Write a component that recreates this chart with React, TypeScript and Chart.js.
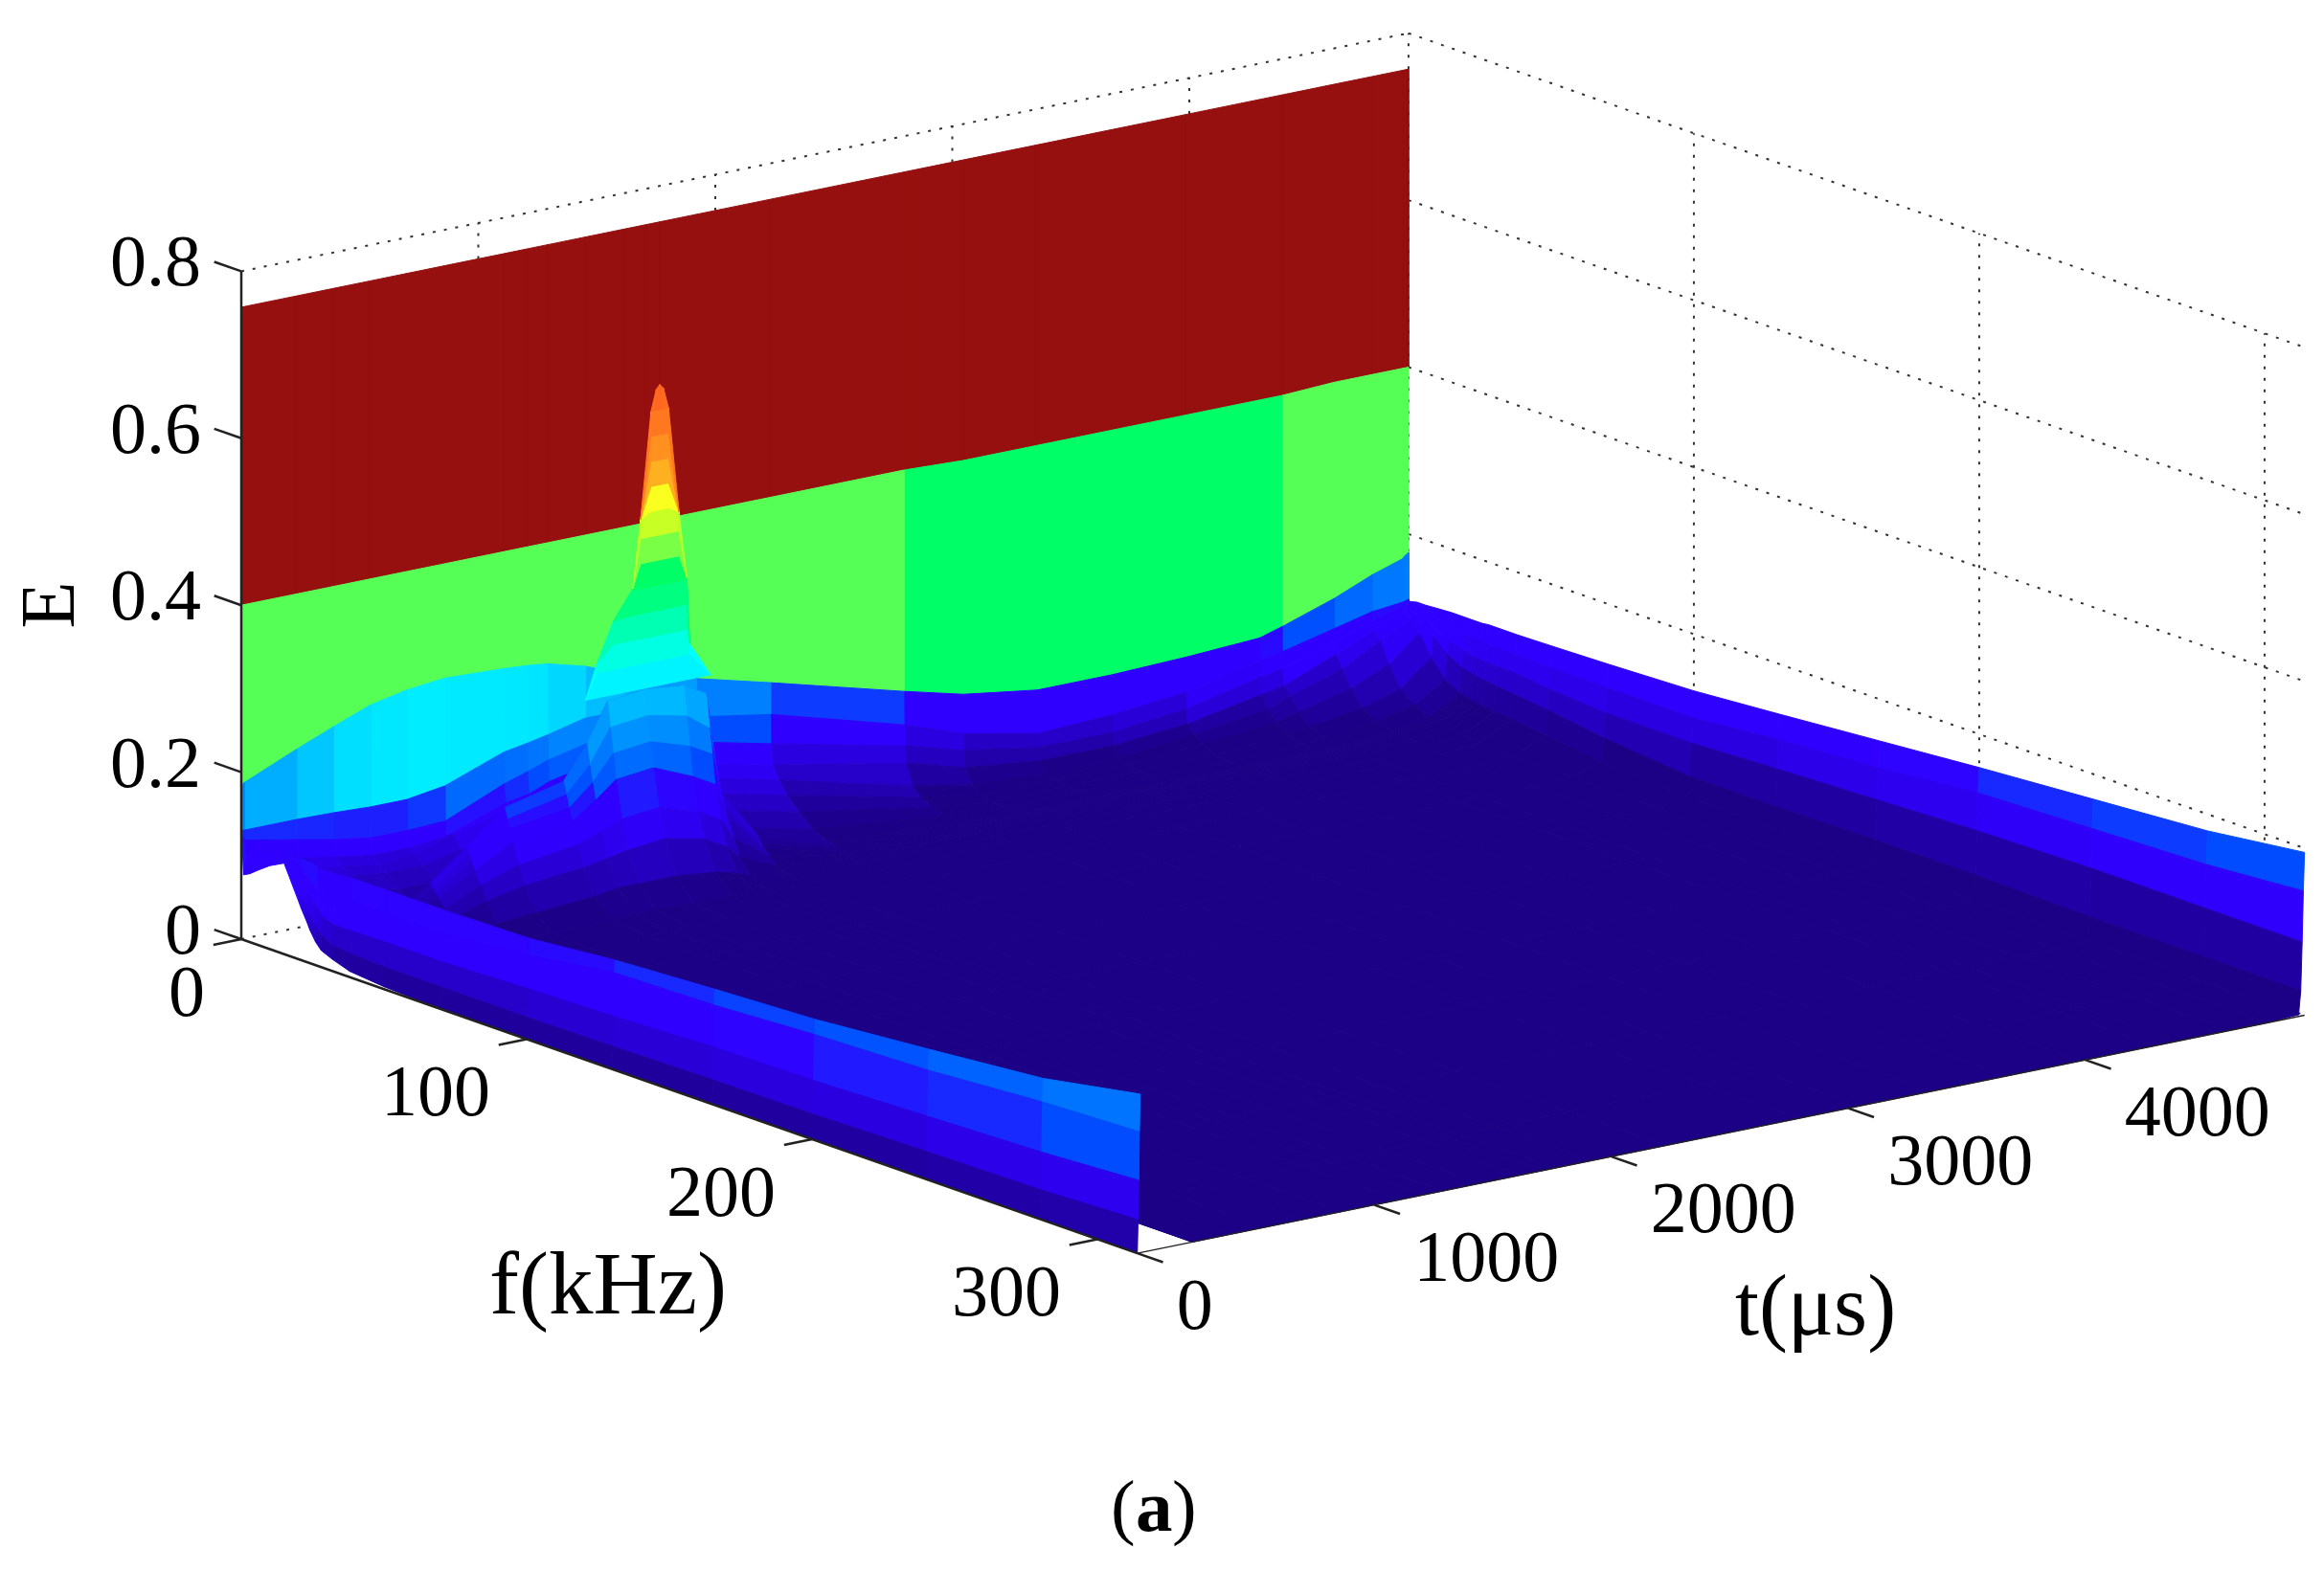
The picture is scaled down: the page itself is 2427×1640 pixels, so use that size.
import React, { useEffect, useRef } from "react";
import { Chart, registerables } from "chart.js";

Chart.register(...registerables);

// ---------- axis data ----------
const eTicks = [0, 0.2, 0.4, 0.6, 0.8];
const eTickLabels = ["0", "0.2", "0.4", "0.6", "0.8"];
const fTicks = [0, 100, 200, 300];
const fTickLabels = ["0", "100", "200", "300"];
const tTicks = [0, 1000, 2000, 3000, 4000];
const tTickLabels = ["0", "1000", "2000", "3000", "4000"];
const fMax = 314;
const tMax = 4925;
const eMax = 0.8;

// ---------- surface grid: E(f, t) ----------
const tColumns = [0, 3, 6, 9, 12, 232, 388, 544, 696, 857, 1106, 1205, 1292, 1450, 1615, 1710, 1764, 1920, 2232, 2795, 3045, 3358, 3670, 3984, 4296, 4390, 4610, 4770, 4900, 4909, 4915, 4920, 4925];
const fRows = [0, 0.02, 0.05, 0.1, 0.2, 0.8, 3, 6, 10, 15, 20, 21, 22, 23, 24, 26, 28, 32, 38, 50, 70, 100, 130, 165, 200, 240, 280, 314];

const E00 = [.757,.757,.757,.757,.757,.757,.757,.757,.757,.757,.757,.757,.757,.757,.757,.757,.757,.757,.757,.757,.757,.757,.757,.757,.757,.757,.757,.757,.757,.757,.757,.757,.757];
const E01 = [.4,.4,.4,.4,.4,.4,.4,.4,.4,.4,.4,.4,.4,.4,.4,.4,.4,.4,.4,.4,.397,.397,.397,.397,.397,.397,.4,.4,.4,.4,.4,.4,.4];
const E02 = [.183,.184,.185,.186,.187,.214,.232,.249,.258,.263,.26,.258,.255,.243,.225,.215,.21,.201,.178,.135,.117,.104,.104,.107,.112,.12,.141,.16,.172,.175,.176,.177,.178];
const E03 = [.13,.13,.13,.13,.13,.13,.129,.127,.127,.134,.16,.165,.17,.181,.18,.172,.165,.155,.14,.095,.07,.052,.056,.065,.085,.09,.105,.116,.12,.121,.121,.122,.122];
const E04 = [.122,.122,.121,.12,.118,.106,.097,.09,.09,.092,.122,.131,.14,.15,.15,.145,.14,.125,.105,.07,.05,.035,.035,.045,.065,.07,.09,.105,.115,.118,.119,.12,.12];
const E05 = [.078,.085,.09,.095,.098,.085,.077,.07,.07,.075,.1,.105,.115,.125,.125,.12,.115,.1,.08,.05,.03,.02,.02,.028,.045,.05,.075,.095,.11,.115,.117,.118,.12];
const E06 = [.082,.09,.1,.105,.11,.075,.068,.06,.065,.08,.095,.1,.105,.11,.11,.105,.1,.085,.065,.025,.012,.006,.008,.018,.03,.04,.06,.085,.105,.112,.116,.12,.122];
const E07 = [.09,.095,.1,.105,.112,.07,.06,.055,.055,.065,.08,.085,.09,.095,.098,.09,.085,.07,.05,.015,.004,.003,.004,.01,.018,.025,.04,.06,.09,.105,.11,.118,.122];
const E08 = [.1,.102,.105,.11,.115,.065,.05,.04,.04,.05,.065,.07,.075,.085,.09,.08,.07,.055,.035,.008,0,0,0,.003,.008,.012,.022,.035,.065,.09,.1,.112,.123];
const E09 = [.109,.11,.112,.115,.118,.055,.04,.028,.025,.035,.05,.055,.065,.085,.09,.075,.06,.04,.02,.004,0,0,0,0,.003,.005,.012,.022,.045,.075,.09,.108,.124];
const E10 = [.07,.08,.095,.11,.12,.035,.022,.012,.01,.018,.035,.045,.06,.1,.1,.08,.055,.03,.012,.002,0,0,0,0,0,0,.006,.014,.035,.065,.085,.105,.124];
const E11 = [.062,.075,.09,.105,.12,.012,.03,.06,.095,.133,.15,.19,.235,.24,.235,.22,.1,.04,.012,.002,0,0,0,0,0,0,.006,.013,.034,.064,.084,.105,.124];
const E12 = [.055,.07,.085,.1,.12,.012,.028,.055,.088,.12,.135,.165,.205,.21,.2,.18,.09,.035,.01,.001,0,0,0,0,0,0,.005,.012,.033,.063,.083,.104,.124];
const E13 = [.048,.062,.08,.1,.12,.011,.025,.05,.08,.11,.12,.145,.175,.18,.165,.15,.08,.03,.008,.001,0,0,0,0,0,0,.005,.012,.032,.062,.082,.104,.124];
const E14 = [.04,.055,.075,.095,.12,.01,.022,.045,.07,.095,.105,.125,.145,.15,.13,.115,.07,.025,.005,0,0,0,0,0,0,0,.004,.011,.031,.061,.082,.103,.124];
const E15 = [.028,.045,.07,.09,.116,.009,.018,.035,.055,.07,.08,.09,.1,.105,.09,.075,.05,.018,.003,0,0,0,0,0,0,0,.004,.01,.03,.06,.081,.103,.124];
const E16 = [.02,.038,.06,.09,.116,.008,.014,.025,.038,.048,.055,.06,.065,.07,.06,.045,.03,.01,.001,0,0,0,0,0,0,0,.003,.009,.029,.059,.081,.102,.125];
const E17 = [.014,.03,.055,.09,.116,.005,.008,.012,.017,.02,.025,.03,.03,.03,.025,.018,.012,.004,0,0,0,0,0,0,0,0,.002,.007,.027,.057,.08,.102,.125];
const E18 = [.007,.028,.055,.09,.118,0,.001,.002,.003,.003,.004,.006,.006,.005,.003,.002,.001,0,0,0,0,0,0,0,0,0,0,.005,.025,.055,.08,.102,.125];
const E19 = [.003,.026,.056,.09,.118,0,0,0,0,0,0,0,0,0,0,0,0,0,0,0,0,0,0,0,0,0,0,.003,.02,.05,.075,.1,.126];
const E20 = [0,.026,.056,.09,.118,0,0,0,0,0,0,0,0,0,0,0,0,0,0,0,0,0,0,0,0,0,0,.002,.012,.04,.07,.1,.128];
const E21 = [0,.026,.06,.1,.12,0,0,0,0,0,0,0,0,0,0,0,0,0,0,0,0,0,0,0,0,0,0,0,.006,.03,.07,.1,.132];
const E22 = [0,.027,.063,.115,.13,0,0,0,0,0,0,0,0,0,0,0,0,0,0,0,0,0,0,0,0,0,0,0,.005,.03,.075,.11,.14];
const E23 = [0,.029,.068,.118,.137,0,0,0,0,0,0,0,0,0,0,0,0,0,0,0,0,0,0,0,0,0,0,0,.004,.032,.08,.118,.15];
const E24 = [0,.03,.07,.125,.143,0,0,0,0,0,0,0,0,0,0,0,0,0,0,0,0,0,0,0,0,0,0,0,.003,.032,.085,.13,.16];
const E25 = [0,.033,.075,.13,.155,0,0,0,0,0,0,0,0,0,0,0,0,0,0,0,0,0,0,0,0,0,0,0,.003,.03,.088,.135,.17];
const E26 = [0,.035,.08,.14,.168,0,0,0,0,0,0,0,0,0,0,0,0,0,0,0,0,0,0,0,0,0,0,0,.002,.03,.088,.14,.18];
const E27 = [0,.04,.087,.145,.19,0,0,0,0,0,0,0,0,0,0,0,0,0,0,0,0,0,0,0,0,0,0,0,.002,.03,.088,.149,.195];
const surfaceRows = [E00,E01,E02,E03,E04,E05,E06,E07,E08,E09,E10,E11,E12,E13,E14,E15,E16,E17,E18,E19,E20,E21,E22,E23,E24,E25,E26,E27];

// ---------- the narrow peak near f = 20 kHz ----------
const peakF = 20;
const peakAfterRow = 10;
const peakT = [1212, 1261, 1330, 1411, 1444, 1488, 1510, 1525, 1540, 1562, 1606, 1639, 1651, 1740];
const P00 = [.24,.282,.328,.362,.443,.57,.595,.6,.595,.57,.443,.362,.282,.24];
const P01 = [.24,.282,.328,.362,.443,.57,.57,.57,.57,.57,.443,.362,.282,.24];
const P02 = [.24,.282,.328,.362,.443,.54,.54,.54,.54,.54,.443,.362,.282,.24];
const P03 = [.24,.282,.328,.362,.443,.51,.51,.51,.51,.51,.443,.362,.282,.24];
const P04 = [.24,.282,.328,.362,.443,.48,.48,.48,.48,.48,.443,.362,.282,.24];
const P05 = [.24,.282,.328,.362,.443,.45,.45,.45,.45,.45,.443,.362,.282,.24];
const P06 = [.24,.282,.328,.362,.42,.42,.42,.42,.42,.42,.42,.362,.282,.24];
const P07 = [.24,.282,.328,.362,.39,.39,.39,.39,.39,.39,.39,.362,.282,.24];
const P08 = [.24,.282,.328,.36,.36,.36,.36,.36,.36,.36,.36,.36,.282,.24];
const P09 = [.24,.282,.328,.33,.33,.33,.33,.33,.33,.33,.33,.33,.282,.24];
const P10 = [.24,.282,.3,.3,.3,.3,.3,.3,.3,.3,.3,.3,.282,.24];
const P11 = [.24,.27,.27,.27,.27,.27,.27,.27,.27,.27,.27,.27,.27,.24];
const P12 = [.24,.24,.24,.24,.24,.24,.24,.24,.24,.24,.24,.24,.24,.24];
const peakRows = [P00,P01,P02,P03,P04,P05,P06,P07,P08,P09,P10,P11,P12];

// ---------- colour map ----------
const colorRange = 0.75;
const stopPos = [0, .015, .12, .156, .173, .188, .237, .28, .33, .375, .42, .459, .504, .5295, .532, .55, .604, .643, .68, .741, .8, .86, 1];
const stopCol = ["#1c0085","#1c0085","#3000ff","#3000ff","#1828ff","#0050ff","#0080ff","#00a8ff","#00ddff","#00ffff","#00ffcc","#00ff99","#00ff66","#00ff66","#55ff55","#66ff50","#d0ff20","#ffff20","#ffb020","#ff8020","#ff6820","#ff4010","#96100f"];

function rgb(h: string) {
  return [parseInt(h.slice(1, 3), 16), parseInt(h.slice(3, 5), 16), parseInt(h.slice(5, 7), 16)];
}
function colorFor(e: number) {
  const p = Math.min(1, Math.max(0, e / colorRange));
  let i = 0;
  while (i < stopPos.length - 2 && p > stopPos[i + 1]) i++;
  const k = (p - stopPos[i]) / (stopPos[i + 1] - stopPos[i]);
  const a = rgb(stopCol[i]);
  const b = rgb(stopCol[i + 1]);
  const c = a.map((v, n) => Math.round(v + (b[n] - v) * k));
  return `rgb(${c[0]},${c[1]},${c[2]})`;
}

// ---------- the view of the 3-D box, onto the chart's x/y scales ----------
const origin = { x: 252, y: 981 };
const perKHz = { x: 2.98, y: 1.045 };
const perUs = { x: 0.2475, y: -0.0505 };
const perE = 872;
function project(f: number, t: number, e: number) {
  return {
    x: origin.x + f * perKHz.x + t * perUs.x,
    y: origin.y + f * perKHz.y + t * perUs.y - e * perE,
  };
}

const SURFACE_STYLE = { showLine: true, pointRadius: 0, borderWidth: 1, tension: 0, fill: "shape" };

function quad(pts: { x: number; y: number }[], color: string) {
  return {
    ...SURFACE_STYLE,
    data: [...pts, pts[0]],
    backgroundColor: color,
    borderColor: color,
  };
}
function area(p: { x: number; y: number }[]) {
  let s = 0;
  for (let i = 0; i < p.length; i++) {
    const q = p[(i + 1) % p.length];
    s += p[i].x * q.y - q.x * p[i].y;
  }
  return Math.abs(s / 2);
}
function stroke(pts: { x: number; y: number }[], color: string, width: number, dash: number[] = []) {
  return { data: pts, showLine: true, pointRadius: 0, borderColor: color, borderWidth: width, borderDash: dash, fill: false, tension: 0 };
}

function cellValue(i: number, j: number) {
  const r0 = surfaceRows[i], r1 = surfaceRows[i + 1];
  if (i >= 5 && j >= 27) return r0[j];
  if (i >= 5 && j >= 5) return (r0[j] + r0[j + 1] + r1[j] + r1[j + 1]) / 4;
  return r0[j + 1];
}

function buildDatasets() {
  const painter: any[] = [];
  const dots = [3, 9];
  const dotCol = "#333333";
  // dotted grid behind the surface
  for (const t of tTicks.slice(1)) {
    painter.push(stroke([project(0, t, 0), project(0, t, eMax)], dotCol, 2, dots));
  }
  for (const f of fTicks.slice(1)) {
    painter.push(stroke([project(f, tMax, 0), project(f, tMax, eMax)], dotCol, 2, dots));
  }
  painter.push(stroke([project(0, tMax, 0), project(0, tMax, eMax)], dotCol, 2, dots));
  for (const e of eTicks) {
    painter.push(stroke([project(0, tMax, e), project(fMax, tMax, e)], dotCol, 2, dots));
  }
  painter.push(stroke([project(0, 0, eMax), project(0, tMax, eMax)], dotCol, 2, dots));
  painter.push(stroke([project(0, 0, 0), project(0, tMax, 0)], dotCol, 2, dots));

  // far-to-near painting of the surface
  for (let i = 0; i < fRows.length - 1; i++) {
    for (let j = tColumns.length - 2; j >= 0; j--) {
      const pts = [
        project(fRows[i], tColumns[j], surfaceRows[i][j]),
        project(fRows[i], tColumns[j + 1], surfaceRows[i][j + 1]),
        project(fRows[i + 1], tColumns[j + 1], surfaceRows[i + 1][j + 1]),
        project(fRows[i + 1], tColumns[j], surfaceRows[i + 1][j]),
      ];
      if (area(pts) < 0.2) continue;
      painter.push(quad(pts, colorFor(cellValue(i, j))));
    }
    if (i === peakAfterRow) {
      for (let k = peakRows.length - 2; k >= 0; k--) {
        for (let j = 0; j < peakT.length - 1; j++) {
          const a = peakRows[k], b = peakRows[k + 1];
          const pts = [
            project(peakF, peakT[j], a[j]),
            project(peakF, peakT[j + 1], a[j + 1]),
            project(peakF, peakT[j + 1], b[j + 1]),
            project(peakF, peakT[j], b[j]),
          ];
          if (area(pts) < 0.2) continue;
          painter.push(quad(pts, colorFor(Math.max(a[j], a[j + 1]))));
        }
      }
    }
  }

  // solid axes and ticks on top
  painter.push(stroke([project(0, 0, 0), project(0, 0, eMax)], "#222222", 2.5));
  painter.push(stroke([project(0, 0, 0), project(fMax, 0, 0)], "#222222", 2.5));
  painter.push(stroke([project(fMax, 0, 0), project(fMax, tMax, 0)], "#222222", 1.5));
  for (const e of eTicks) painter.push(stroke([project(0, 0, e), project(-9.5, 0, e)], "#222222", 2.5));
  for (const f of fTicks) painter.push(stroke([project(f, 0, 0), project(f, -118, 0)], "#222222", 2.5));
  for (const t of tTicks) painter.push(stroke([project(fMax, t, 0), project(fMax + 9, t, 0)], "#222222", 2.5));
  return painter.reverse();
}

const serif = '"Liberation Serif", "Times New Roman", serif';

const textPlugin = {
  id: "boxText",
  afterDatasetsDraw(chart: any) {
    const { ctx, scales } = chart;
    const px = (p: { x: number; y: number }) => ({ x: scales.x.getPixelForValue(p.x), y: scales.y.getPixelForValue(p.y) });
    const put = (s: string, x: number, y: number, align: CanvasTextAlign, font: string) => {
      ctx.font = font;
      ctx.textAlign = align;
      ctx.textBaseline = "middle";
      ctx.fillStyle = "#000";
      ctx.fillText(s, x, y);
    };
    ctx.save();
    const tickFont = `76px ${serif}`;
    eTicks.forEach((e, i) => {
      const p = px(project(0, 0, e));
      put(eTickLabels[i], p.x - 42, p.y - 5, "right", tickFont);
    });
    fTicks.forEach((f, i) => {
      const p = px(project(f, 0, 0));
      put(fTickLabels[i], p.x - 38, p.y + 60, "right", tickFont);
    });
    tTicks.forEach((t, i) => {
      const p = px(project(fMax, t, 0));
      put(tTickLabels[i], p.x + 41, p.y + 59, "left", tickFont);
    });
    put("f(kHz)", 635, 1348, "center", `93px ${serif}`);
    put("t(μs)", 1896, 1370, "center", `90px ${serif}`);
    ctx.save();
    ctx.translate(56, 632);
    ctx.rotate(-Math.PI / 2);
    put("E", 0, 0, "center", `80px ${serif}`);
    ctx.restore();
    put("(", 1160, 1579, "left", `77px ${serif}`);
    put("a", 1186, 1579, "left", `bold 77px ${serif}`);
    put(")", 1224, 1579, "left", `77px ${serif}`);
    ctx.restore();
  },
};

export default function App() {
  const ref = useRef<HTMLCanvasElement>(null);
  useEffect(() => {
    document.body.style.margin = "0";
    const chart = new Chart(ref.current as HTMLCanvasElement, {
      type: "line",
      data: { datasets: buildDatasets() },
      options: {
        responsive: false,
        animation: false,
        events: [],
        layout: { padding: 0 },
        scales: {
          x: { type: "linear", min: 0, max: 2427, display: false },
          y: { type: "linear", min: 0, max: 1640, reverse: true, display: false },
        },
        plugins: { legend: { display: false }, tooltip: { enabled: false }, title: { display: false } },
      },
      plugins: [textPlugin],
    } as any);
    return () => chart.destroy();
  }, []);
  return <canvas ref={ref} width={2427} height={1640} style={{ display: "block", width: 2427, height: 1640 }} />;
}
